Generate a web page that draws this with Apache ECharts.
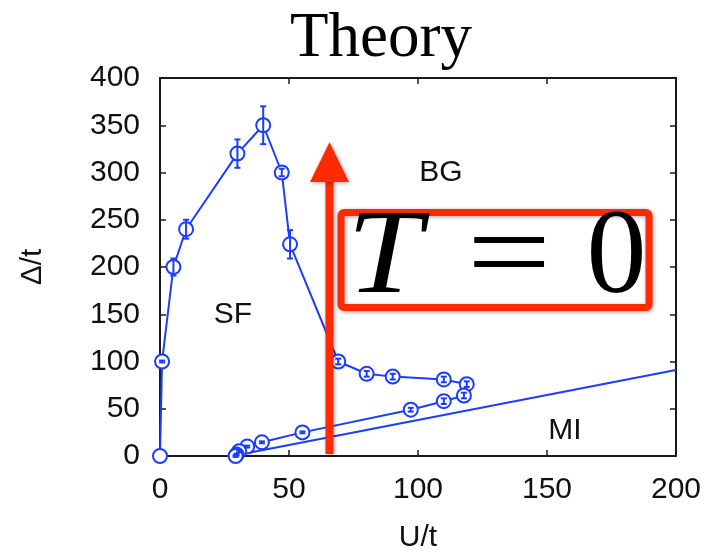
<!DOCTYPE html>
<html>
<head>
<meta charset="utf-8">
<script src="https://cdn.jsdelivr.net/npm/echarts@6/dist/echarts.min.js"></script>
<style>
html,body{margin:0;padding:0;background:#fff;}
#chart{width:711px;height:554px;}
</style>
</head>
<body>
<div id="chart"></div>
<script>
// ---- data ----
const uVals   = [0, 0.8, 5.2, 10.1, 30, 40, 47.2, 50.4, 69.1, 80.1, 90.2, 110, 118.9, 117.8, 110, 97.2, 55.2, 39.5, 33.8, 30.7, 29.7, 29.3];
const gapVals = [0, 100, 200, 240, 320, 350, 300, 224, 100, 87, 84, 81, 76, 64, 58, 49, 25, 14.5, 10, 5, 1.5, 0];
const errVals = [0, 1, 9, 10, 15, 20, 4, 15, 3, 3, 3, 3, 3, 3, 3, 2, 1, 1, 1, 1, 1, 1];
const miU   = [28, 200];
const miGap = [0, 91];
const xTicks = [0, 50, 100, 150, 200];
const yTicks = [0, 50, 100, 150, 200, 250, 300, 350, 400];
const arrowU = 65.7, arrowFrom = 2, arrowBase = 291, arrowTip = 332;

const BLUE = '#1c3cff';
const RED = '#ff2a00';
const FONT = 'Liberation Sans';

const pts = uVals.map((u, i) => [u, gapVals[i], errVals[i]]);
const miPts = miU.map((u, i) => [u, miGap[i]]);

const chart = echarts.init(document.getElementById('chart'), null, {renderer: 'canvas'});

function axisCommon() {
  return {
    axisLine: {show: true, onZero: false, lineStyle: {color: '#1a1a1a', width: 2}},
    axisTick: {show: true, inside: true, length: 6, lineStyle: {color: '#1a1a1a', width: 1.5}},
    splitLine: {show: false}
  };
}

const option = {
  animation: false,
  backgroundColor: '#fff',
  title: {
    text: 'Theory', left: 376, top: 3, textAlign: 'center',
    textStyle: {fontFamily: 'Liberation Serif', fontSize: 63, fontWeight: 'normal', color: '#000', lineHeight: 63}
  },
  grid: {left: 160, top: 78, right: 35, bottom: 98, containLabel: false, outerBoundsMode: 'none'},
  xAxis: [
    Object.assign(axisCommon(), {
      type: 'value', min: xTicks[0], max: xTicks[xTicks.length - 1], interval: 50, position: 'bottom',
      name: 'U/t', nameLocation: 'middle', nameGap: 67,
      nameTextStyle: {fontFamily: FONT, fontSize: 30, color: '#111'},
      axisLabel: {margin: 19, fontFamily: FONT, fontSize: 30, color: '#111'}
    }),
    Object.assign(axisCommon(), {
      type: 'value', min: 0, max: 200, interval: 50, position: 'top',
      axisLabel: {show: false}
    })
  ],
  yAxis: [
    Object.assign(axisCommon(), {
      type: 'value', min: yTicks[0], max: yTicks[yTicks.length - 1], interval: 50, position: 'left',
      name: 'Δ/t', nameLocation: 'middle', nameGap: 112, nameRotate: 90,
      nameTextStyle: {fontFamily: FONT, fontSize: 30, color: '#111'},
      axisLabel: {margin: 20, fontFamily: FONT, fontSize: 30, color: '#111'}
    }),
    Object.assign(axisCommon(), {
      type: 'value', min: 0, max: 400, interval: 50, position: 'right',
      axisLabel: {show: false}
    })
  ],
  series: [
    {
      type: 'line', data: miPts, symbol: 'none', silent: true,
      lineStyle: {color: BLUE, width: 2}, z: 2
    },
    {
      type: 'line', data: pts, symbol: 'emptyCircle', symbolSize: 14,
      itemStyle: {color: BLUE, borderColor: BLUE, borderWidth: 2},
      lineStyle: {color: BLUE, width: 2}, z: 3
    },
    {
      type: 'custom', data: pts, z: 4,
      renderItem: function (params, api) {
        const u = api.value(0), g = api.value(1), e = api.value(2);
        if (!e) return null;
        const top = api.coord([u, g + e]);
        const bot = api.coord([u, g - e]);
        const hw = 3;
        const st = {stroke: BLUE, lineWidth: 2};
        return {
          type: 'group',
          children: [
            {type: 'line', shape: {x1: top[0], y1: top[1], x2: bot[0], y2: bot[1]}, style: st},
            {type: 'line', shape: {x1: top[0] - hw, y1: top[1], x2: top[0] + hw, y2: top[1]}, style: st},
            {type: 'line', shape: {x1: bot[0] - hw, y1: bot[1], x2: bot[0] + hw, y2: bot[1]}, style: st}
          ]
        };
      }
    }
  ]
};
chart.setOption(option);

// annotations (arrow via axis conversion, labels and box)
const pBot = chart.convertToPixel({xAxisIndex: 0, yAxisIndex: 0}, [arrowU, arrowFrom]);
const pBase = chart.convertToPixel({xAxisIndex: 0, yAxisIndex: 0}, [arrowU, arrowBase]);
const pTip = chart.convertToPixel({xAxisIndex: 0, yAxisIndex: 0}, [arrowU, arrowTip]);
const ax = pBot[0];
const shadow = {shadowBlur: 4, shadowColor: 'rgba(0,0,0,0.35)', shadowOffsetX: 1, shadowOffsetY: 1};

chart.setOption({
  graphic: [
    {type: 'rect', z: 100, shape: {x: ax - 4, y: pBase[1], width: 8, height: pBot[1] - pBase[1]},
     style: Object.assign({fill: RED}, shadow)},
    {type: 'polygon', z: 100, shape: {points: [[ax - 19.5, pBase[1] + 1], [ax + 19.5, pBase[1] + 1], [ax, pTip[1]]]},
     style: Object.assign({fill: RED}, shadow)},
    {type: 'rect', z: 100, shape: {x: 341, y: 212.5, width: 308, height: 95, r: 3},
     style: Object.assign({fill: '#fff', stroke: RED, lineWidth: 7}, shadow)},
    {type: 'text', z: 101, x: 347, y: 260.5, scaleX: 1.12, originX: 0, originY: 0,
     style: {text: 'T', fontFamily: 'Liberation Serif', fontStyle: 'italic', fontSize: 120, fill: '#000', align: 'left', verticalAlign: 'middle'}},
    {type: 'text', z: 101, x: 509, y: 260.5, scaleX: 1.25, originX: 0, originY: 0,
     style: {text: '=', fontFamily: 'Liberation Serif', fontSize: 120, fill: '#000', align: 'center', verticalAlign: 'middle'}},
    {type: 'text', z: 101, x: 616.5, y: 260.5,
     style: {text: '0', fontFamily: 'Liberation Serif', fontSize: 120, fill: '#000', align: 'center', verticalAlign: 'middle'}},
    {type: 'text', z: 50, x: 233, y: 315,
     style: {text: 'SF', fontFamily: FONT, fontSize: 30, fill: '#111', align: 'center', verticalAlign: 'middle'}},
    {type: 'text', z: 50, x: 441, y: 173,
     style: {text: 'BG', fontFamily: FONT, fontSize: 30, fill: '#111', align: 'center', verticalAlign: 'middle'}},
    {type: 'text', z: 50, x: 565, y: 431,
     style: {text: 'MI', fontFamily: FONT, fontSize: 30, fill: '#111', align: 'center', verticalAlign: 'middle'}}
  ]
});
</script>
</body>
</html>
